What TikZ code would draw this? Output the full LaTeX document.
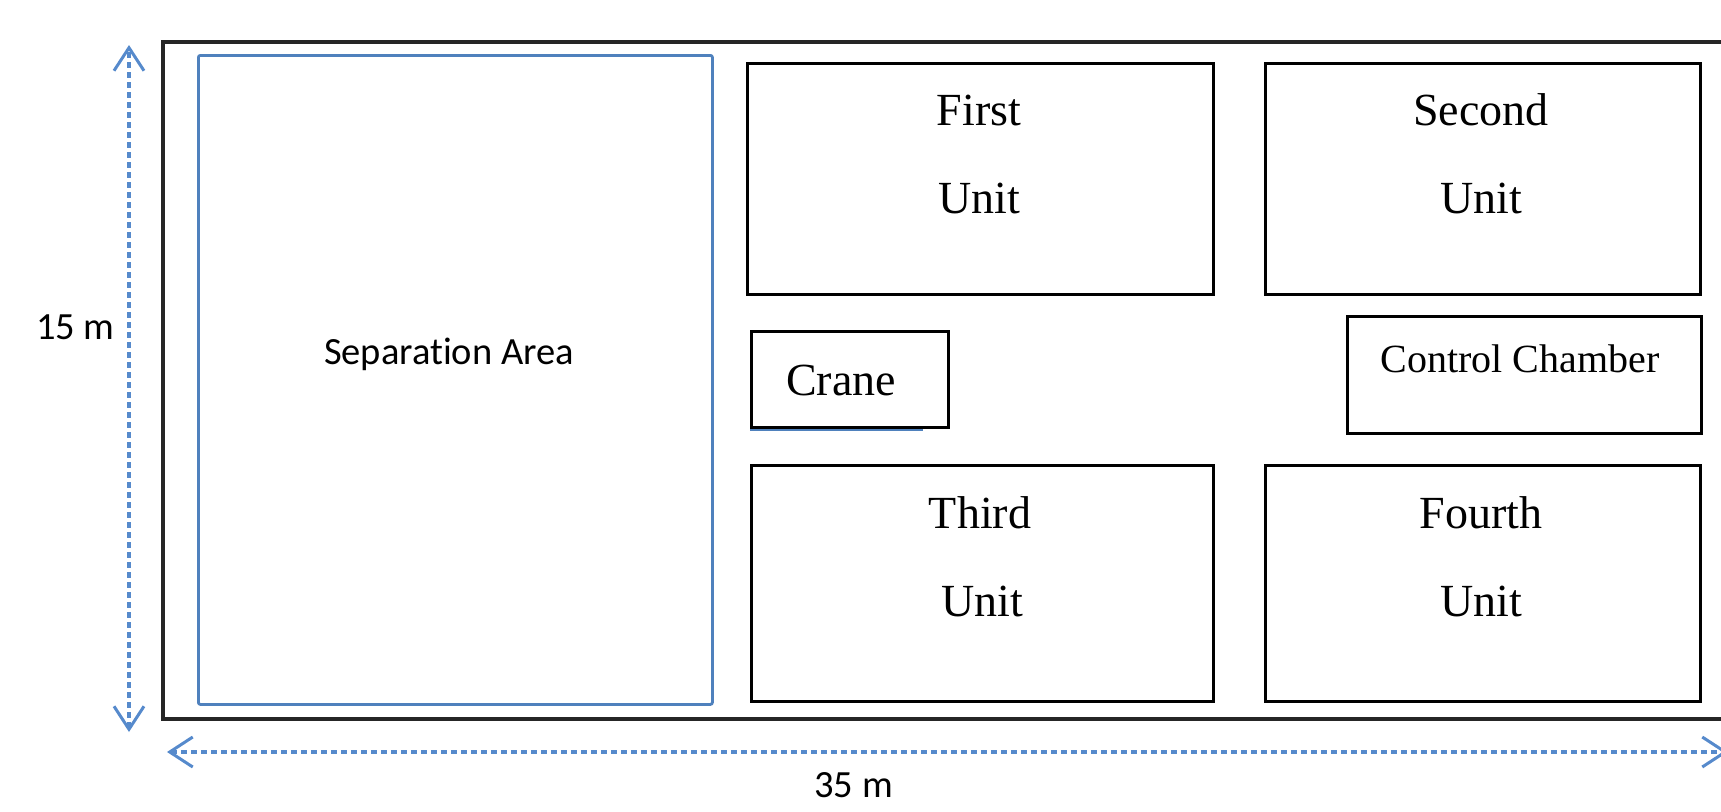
\documentclass[tikz,border=0pt]{standalone}
\usepackage{fontspec}
\setmainfont{Liberation Serif}
\newfontfamily\calibri[Ligatures={NoCommon}]{Carlito}
\usetikzlibrary{arrows.meta}
\definecolor{areablue}{RGB}{79,129,189}
\definecolor{dimblue}{RGB}{86,138,204}
\tikzset{
  x=1pt, y=-1pt,
  wall/.style={draw=black!85, line width=3.8pt},
  room/.style={draw=black, line width=3pt, inner sep=0pt, anchor=north west},
  sepbox/.style={draw=areablue, line width=2.8pt, rounded corners=2pt, inner sep=0pt, anchor=north west},
  roomlabel/.style={font=\fontsize{46}{46}\selectfont, anchor=base, inner sep=0pt},
  smalllabel/.style={font=\fontsize{40}{40}\selectfont, anchor=base, inner sep=0pt},
  sanslabel/.style={font=\calibri\fontsize{38.5}{38.5}\selectfont, inner sep=0pt},
  dimline/.style={draw=dimblue, line width=3.2pt, dash pattern=on 6pt off 4pt,
    {Straight Barb[length=23pt,width=30pt,line width=3pt]}-{Straight Barb[length=23pt,width=30pt,line width=3pt]}},
}
\begin{document}
\begin{tikzpicture}
\useasboundingbox (0,0) rectangle (1721,811);

% hall outline (open past the right edge)
\coordinate (hallTR) at (1740,42);
\coordinate (hallTL) at (163,42);
\coordinate (hallBL) at (163,719);
\coordinate (hallBR) at (1740,719);
\draw[wall] (hallTR) -- (hallTL) -- (hallBL) -- (hallBR);

% separation area
\node[sepbox, minimum width=514pt, minimum height=649pt] (sep) at (197,54) {};
\node[sanslabel] (septext) at (449,354) {Separation Area};

% units
\node[room, minimum width=466pt, minimum height=231pt] (u1) at (746,62) {};
\node[roomlabel] (u1a) at (979,125) {First};
\node[roomlabel] (u1b) at (979,213) {Unit};

\node[room, minimum width=435pt, minimum height=231pt] (u2) at (1264,62) {};
\node[roomlabel] (u2a) at (1481,125) {Second};
\node[roomlabel] (u2b) at (1481,213) {Unit};

\node[room, minimum width=462pt, minimum height=236pt] (u3) at (750,464) {};
\node[roomlabel] (u3a) at (980,528) {Third};
\node[roomlabel] (u3b) at (982,616) {Unit};

\node[room, minimum width=435pt, minimum height=236pt] (u4) at (1264,464) {};
\node[roomlabel] (u4a) at (1481,528) {Fourth};
\node[roomlabel] (u4b) at (1481,616) {Unit};

% crane with its blue underline
\coordinate (craneL) at (750,429.5);
\coordinate (craneR) at (923,429.5);
\draw[draw=areablue, line width=2.8pt] (craneL) -- (craneR);
\node[room, minimum width=197pt, minimum height=96pt] (crane) at (750,330) {};
\node[roomlabel] (cranetext) at (841,395) {Crane};

% control chamber
\node[room, minimum width=354pt, minimum height=117pt] (ctrl) at (1346,315) {};
\node[smalllabel] (ctrltext) at (1520,372) {Control Chamber};

% dimensions
\coordinate (vtop) at (129,45);
\coordinate (vbot) at (129,732);
\draw[dimline] (vbot) -- (vtop);
\node[sanslabel] (dimv) at (75.5,327.5) {15 m};

\coordinate (hleft) at (167,752);
\coordinate (hright) at (1728,752);
\draw[dimline] (hleft) -- (hright);
\node[sanslabel] (dimh) at (853.5,785) {35 m};
\end{tikzpicture}
\end{document}
